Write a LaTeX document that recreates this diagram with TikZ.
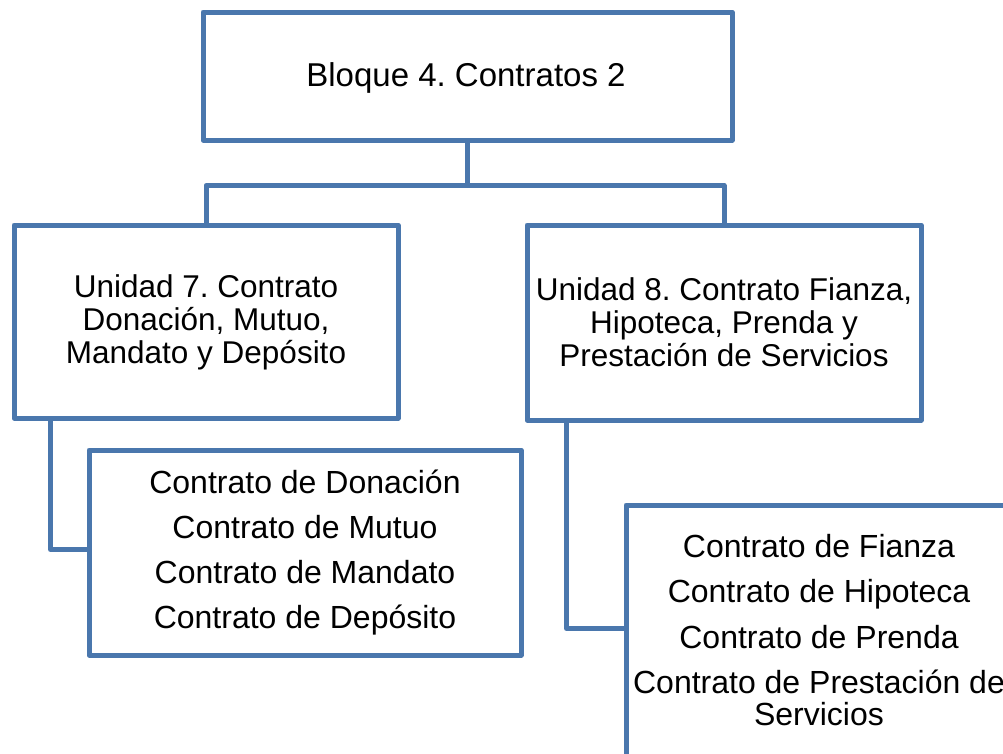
\documentclass[tikz,border=0pt]{standalone}
\usepackage{fontspec}
\setmainfont{Liberation Sans}
\frenchspacing
\definecolor{boxblue}{RGB}{74,119,173}
\begin{document}
\begin{tikzpicture}[x=1pt,y=-1pt,
  box/.style={draw=boxblue,line width=5pt,fill=white,inner sep=0pt,line join=round},
  conn/.style={draw=boxblue,line width=5pt,line join=round},
  txt/.style={align=center,inner sep=0pt}]
\useasboundingbox (0,0) rectangle (1003,753);
\clip (0,0) rectangle (1003,753);
% top block
\node[box,minimum width=529pt,minimum height=128pt] (t) at (467.5,76) {};
\node[txt,font=\fontsize{33}{36}\selectfont] (tt) at (466,78) {Bloque 4. Contratos 2};
% units
\node[box,minimum width=384pt,minimum height=193pt] (u1) at (206,321.5) {};
\node[txt,font=\fontsize{31.5}{33}\selectfont] (u1t) at (206,322) {Unidad 7. Contrato\\Donación, Mutuo,\\Mandato y Depósito};
\node[box,minimum width=394pt,minimum height=195pt] (u2) at (724,322.5) {};
\node[txt,font=\fontsize{31.5}{33}\selectfont] (u2t) at (724,322) {Unidad 8. Contrato Fianza,\\Hipoteca, Prenda y\\Prestación de Servicios};
% connectors
\draw[conn] (t.south) -- ++(0,43) -| (u1.north);
\draw[conn] (t.south) -- ++(0,43) -| (u2.north);
% lists
\node[box,minimum width=432pt,minimum height=205pt] (l1) at (305,552.5) {};
\node[txt,font=\fontsize{32}{45}\selectfont] (l1t) at (305,553) {Contrato de Donación\\Contrato de Mutuo\\Contrato de Mandato\\Contrato de Depósito};
\node[box,minimum width=386pt,minimum height=300pt] (r2) at (819,655) {};
\node[txt,font=\fontsize{32}{45.5}\selectfont,anchor=north] (r2t) at (819,534) {Contrato de Fianza\\Contrato de Hipoteca\\Contrato de Prenda\\Contrato de Prestación de\\[-14pt]Servicios};
\draw[conn] ([xshift=39pt]u1.south west) |- ([yshift=3pt]l1.west);
\draw[conn] ([xshift=42pt]u2.south west) |- ([yshift=-126pt]r2.north west);
\end{tikzpicture}
\end{document}
